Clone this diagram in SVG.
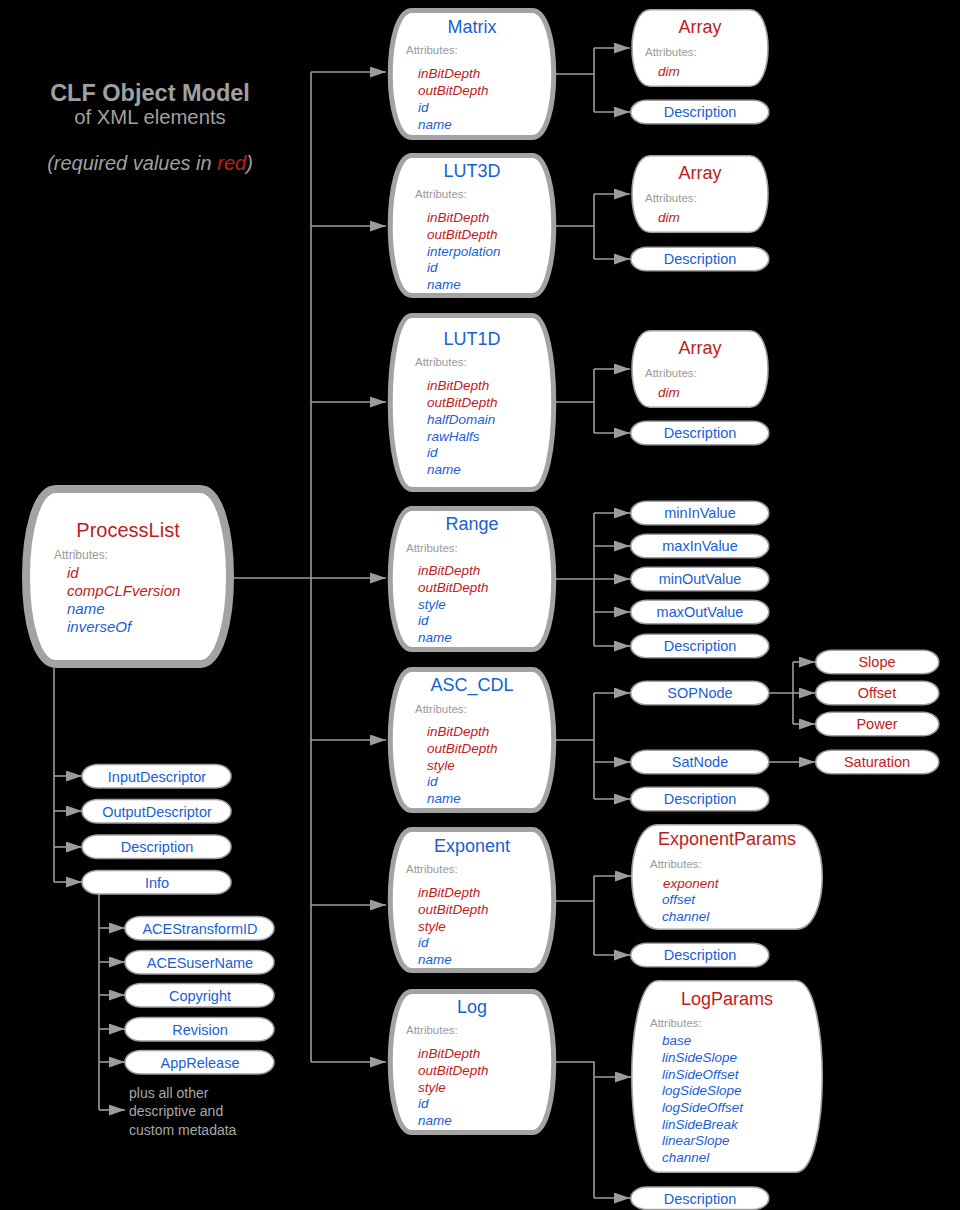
<svg xmlns="http://www.w3.org/2000/svg" width="960" height="1210" viewBox="0 0 960 1210">
<style>
text{font-family:"Liberation Sans",Arial,sans-serif}
.bg{fill:#000}
.big{fill:#fff;stroke:#a3a3a3;stroke-width:5}
.root{fill:#fff;stroke:#a3a3a3;stroke-width:8}
.thin{fill:#fff;stroke:#a0a0a0;stroke-width:1.6}
.pill{fill:#fff;stroke:#a0a0a0;stroke-width:1.6}
.c{fill:none;stroke:#9c9c9c;stroke-width:1.6}
.h{font-size:18px;text-anchor:middle}
.lbl{font-size:11.5px;fill:#9a9a9a}
.a{font-size:13.5px;font-style:italic}
.r{fill:#c0201a}
.b{fill:#1a5ed6}
.p{font-size:14.5px;text-anchor:middle}
.note{font-size:14px;fill:#a8a8a8}
</style>
<defs>
<marker id="arr" markerUnits="userSpaceOnUse" markerWidth="16" markerHeight="12" refX="16" refY="5.5" orient="auto">
<path d="M0,0 L16,5.5 L0,11 Z" fill="#9c9c9c"/>
</marker>
</defs>
<rect class="bg" x="0" y="0" width="960" height="1210"/>

<g id="title">
<text x="150" y="101" text-anchor="middle" style="font-weight:bold;font-size:23.5px;fill:#a0a0a0">CLF Object Model</text>
<text x="150" y="124" text-anchor="middle" style="font-size:20.3px;fill:#a0a0a0">of XML elements</text>
<text x="150" y="170" text-anchor="middle" style="font-size:20px;font-style:italic;fill:#a0a0a0">(required values in <tspan fill="#c0201a">red</tspan>)</text>
</g>

<g id="connectors">
<path class="c" d="M234,578 H386" marker-end="url(#arr)"/>
<path class="c" d="M311,72 V1062"/>
<path class="c" d="M311,72 H386" marker-end="url(#arr)"/>
<path class="c" d="M311,226 H386" marker-end="url(#arr)"/>
<path class="c" d="M311,402 H386" marker-end="url(#arr)"/>
<path class="c" d="M311,740 H386" marker-end="url(#arr)"/>
<path class="c" d="M311,905 H386" marker-end="url(#arr)"/>
<path class="c" d="M311,1062 H386" marker-end="url(#arr)"/>
<path class="c" d="M54,668 V882"/>
<path class="c" d="M54,776 H82" marker-end="url(#arr)"/>
<path class="c" d="M54,811 H82" marker-end="url(#arr)"/>
<path class="c" d="M54,847 H82" marker-end="url(#arr)"/>
<path class="c" d="M54,882 H82" marker-end="url(#arr)"/>
<path class="c" d="M99,894 V1110"/>
<path class="c" d="M99,928 H125" marker-end="url(#arr)"/>
<path class="c" d="M99,962 H125" marker-end="url(#arr)"/>
<path class="c" d="M99,995 H125" marker-end="url(#arr)"/>
<path class="c" d="M99,1029 H125" marker-end="url(#arr)"/>
<path class="c" d="M99,1062 H125" marker-end="url(#arr)"/>
<path class="c" d="M99,1110 H125" marker-end="url(#arr)"/>
<path class="c" d="M556,74 H594 M594,48 V112"/>
<path class="c" d="M594,48 H630" marker-end="url(#arr)"/>
<path class="c" d="M594,112 H630" marker-end="url(#arr)"/>
<path class="c" d="M556,226 H594 M594,194 V259"/>
<path class="c" d="M594,194 H630" marker-end="url(#arr)"/>
<path class="c" d="M594,259 H630" marker-end="url(#arr)"/>
<path class="c" d="M556,402 H594 M594,369 V433"/>
<path class="c" d="M594,369 H630" marker-end="url(#arr)"/>
<path class="c" d="M594,433 H630" marker-end="url(#arr)"/>
<path class="c" d="M556,579 H594 M594,513 V646"/>
<path class="c" d="M594,513 H630" marker-end="url(#arr)"/>
<path class="c" d="M594,546 H630" marker-end="url(#arr)"/>
<path class="c" d="M594,579 H630" marker-end="url(#arr)"/>
<path class="c" d="M594,612 H630" marker-end="url(#arr)"/>
<path class="c" d="M594,646 H630" marker-end="url(#arr)"/>
<path class="c" d="M556,740 H594 M594,693 V799"/>
<path class="c" d="M594,693 H630" marker-end="url(#arr)"/>
<path class="c" d="M594,762 H630" marker-end="url(#arr)"/>
<path class="c" d="M594,799 H630" marker-end="url(#arr)"/>
<path class="c" d="M769,693 H793 M793,662 V724"/>
<path class="c" d="M793,662 H815" marker-end="url(#arr)"/>
<path class="c" d="M793,693 H815" marker-end="url(#arr)"/>
<path class="c" d="M793,724 H815" marker-end="url(#arr)"/>
<path class="c" d="M769,762 H815" marker-end="url(#arr)"/>
<path class="c" d="M556,901 H594 M594,876 V955"/>
<path class="c" d="M594,876 H631" marker-end="url(#arr)"/>
<path class="c" d="M594,955 H630" marker-end="url(#arr)"/>
<path class="c" d="M556,1062 H594 V1198"/>
<path class="c" d="M594,1077 H631" marker-end="url(#arr)"/>
<path class="c" d="M594,1198 H630" marker-end="url(#arr)"/>
</g>

<g id="ProcessList">
<path class="root" d="M56,489 H200 C240,489 240,664 200,664 H56 C16,664 16,489 56,489 Z"/>
<text class="h r" x="128" y="537" style="font-size:20px">ProcessList</text>
<text class="lbl" x="54" y="559" style="font-size:12px">Attributes:</text>
<text class="a r" x="67" y="578" style="font-size:15px">id</text>
<text class="a r" x="67" y="596" style="font-size:15px">compCLFversion</text>
<text class="a b" x="67" y="614" style="font-size:15px">name</text>
<text class="a b" x="67" y="632" style="font-size:15px">inverseOf</text>
</g>

<g id="InputDescriptor"><rect class="pill" x="82" y="764.5" width="149" height="23.5" rx="16" ry="11.75"/><text class="p b" x="157" y="781.5">InputDescriptor</text></g>
<g id="OutputDescriptor"><rect class="pill" x="82" y="799.5" width="149" height="23.5" rx="16" ry="11.75"/><text class="p b" x="157" y="816.5">OutputDescriptor</text></g>
<g id="PL_Description"><rect class="pill" x="82" y="835" width="149" height="23.5" rx="16" ry="11.75"/><text class="p b" x="157" y="852">Description</text></g>
<g id="Info"><rect class="pill" x="82" y="870.5" width="149" height="23.5" rx="16" ry="11.75"/><text class="p b" x="157" y="887.5">Info</text></g>

<g id="ACEStransformID"><rect class="pill" x="125" y="916.5" width="149" height="23.5" rx="16" ry="11.75"/><text class="p b" x="200" y="933.5">ACEStransformID</text></g>
<g id="ACESuserName"><rect class="pill" x="125" y="950.5" width="149" height="23.5" rx="16" ry="11.75"/><text class="p b" x="200" y="967.5">ACESuserName</text></g>
<g id="Copyright"><rect class="pill" x="125" y="983.5" width="149" height="23.5" rx="16" ry="11.75"/><text class="p b" x="200" y="1000.5">Copyright</text></g>
<g id="Revision"><rect class="pill" x="125" y="1017.5" width="149" height="23.5" rx="16" ry="11.75"/><text class="p b" x="200" y="1034.5">Revision</text></g>
<g id="AppRelease"><rect class="pill" x="125" y="1050.5" width="149" height="23.5" rx="16" ry="11.75"/><text class="p b" x="200" y="1067.5">AppRelease</text></g>
<g id="OtherMetadata">
<text class="note" x="129" y="1098">plus all other</text>
<text class="note" x="129" y="1116">descriptive and</text>
<text class="note" x="129" y="1135">custom metadata</text>
</g>

<g id="Matrix">
<path class="big" d="M412,10.5 H532 C561,10.5 561,137.5 532,137.5 H412 C383,137.5 383,10.5 412,10.5 Z"/>
<text class="h b" x="472" y="33">Matrix</text>
<text class="lbl" x="406" y="54">Attributes:</text>
<text class="a r" x="418" y="78">inBitDepth</text>
<text class="a r" x="418" y="95">outBitDepth</text>
<text class="a b" x="418" y="112">id</text>
<text class="a b" x="418" y="129">name</text>
</g>
<g id="LUT3D">
<path class="big" d="M412,155.5 H532 C561,155.5 561,295.5 532,295.5 H412 C383,295.5 383,155.5 412,155.5 Z"/>
<text class="h b" x="472" y="177">LUT3D</text>
<text class="lbl" x="415" y="198">Attributes:</text>
<text class="a r" x="427" y="222">inBitDepth</text>
<text class="a r" x="427" y="239">outBitDepth</text>
<text class="a b" x="427" y="256">interpolation</text>
<text class="a b" x="427" y="272">id</text>
<text class="a b" x="427" y="289">name</text>
</g>
<g id="LUT1D">
<path class="big" d="M412,315.5 H532 C561,315.5 561,489.5 532,489.5 H412 C383,489.5 383,315.5 412,315.5 Z"/>
<text class="h b" x="472" y="345">LUT1D</text>
<text class="lbl" x="415" y="366">Attributes:</text>
<text class="a r" x="427" y="390">inBitDepth</text>
<text class="a r" x="427" y="407">outBitDepth</text>
<text class="a b" x="427" y="424">halfDomain</text>
<text class="a b" x="427" y="441">rawHalfs</text>
<text class="a b" x="427" y="457">id</text>
<text class="a b" x="427" y="474">name</text>
</g>
<g id="Range">
<path class="big" d="M412,508.5 H532 C561,508.5 561,649.5 532,649.5 H412 C383,649.5 383,508.5 412,508.5 Z"/>
<text class="h b" x="472" y="530">Range</text>
<text class="lbl" x="406" y="552">Attributes:</text>
<text class="a r" x="418" y="575">inBitDepth</text>
<text class="a r" x="418" y="592">outBitDepth</text>
<text class="a b" x="418" y="609">style</text>
<text class="a b" x="418" y="625">id</text>
<text class="a b" x="418" y="642">name</text>
</g>
<g id="ASC_CDL">
<path class="big" d="M412,669.5 H532 C561,669.5 561,810.5 532,810.5 H412 C383,810.5 383,669.5 412,669.5 Z"/>
<text class="h b" x="472" y="691">ASC_CDL</text>
<text class="lbl" x="415" y="713">Attributes:</text>
<text class="a r" x="427" y="736">inBitDepth</text>
<text class="a r" x="427" y="753">outBitDepth</text>
<text class="a r" x="427" y="770">style</text>
<text class="a b" x="427" y="786">id</text>
<text class="a b" x="427" y="803">name</text>
</g>
<g id="Exponent">
<path class="big" d="M412,829.5 H532 C561,829.5 561,970.5 532,970.5 H412 C383,970.5 383,829.5 412,829.5 Z"/>
<text class="h b" x="472" y="852">Exponent</text>
<text class="lbl" x="406" y="873">Attributes:</text>
<text class="a r" x="418" y="897">inBitDepth</text>
<text class="a r" x="418" y="914">outBitDepth</text>
<text class="a r" x="418" y="931">style</text>
<text class="a b" x="418" y="947">id</text>
<text class="a b" x="418" y="964">name</text>
</g>
<g id="Log">
<path class="big" d="M412,991.5 H532 C561,991.5 561,1132.5 532,1132.5 H412 C383,1132.5 383,991.5 412,991.5 Z"/>
<text class="h b" x="472" y="1013">Log</text>
<text class="lbl" x="406" y="1034">Attributes:</text>
<text class="a r" x="418" y="1058">inBitDepth</text>
<text class="a r" x="418" y="1075">outBitDepth</text>
<text class="a r" x="418" y="1092">style</text>
<text class="a b" x="418" y="1108">id</text>
<text class="a b" x="418" y="1125">name</text>
</g>

<g id="Matrix_Array">
<path class="thin" d="M650,9.8 H750 C774,9.8 774,86.2 750,86.2 H650 C626,86.2 626,9.8 650,9.8 Z"/>
<text class="h r" x="700" y="33">Array</text>
<text class="lbl" x="645" y="56">Attributes:</text>
<text class="a r" x="658" y="76">dim</text>
</g>
<g id="Matrix_Description"><rect class="pill" x="630.8" y="100.3" width="138" height="23.5" rx="16" ry="11.75"/><text class="p b" x="700" y="117">Description</text></g>

<g id="LUT3D_Array">
<path class="thin" d="M650,155.8 H750 C774,155.8 774,232.2 750,232.2 H650 C626,232.2 626,155.8 650,155.8 Z"/>
<text class="h r" x="700" y="179">Array</text>
<text class="lbl" x="645" y="202">Attributes:</text>
<text class="a r" x="658" y="222">dim</text>
</g>
<g id="LUT3D_Description"><rect class="pill" x="630.8" y="247.3" width="138" height="23.5" rx="16" ry="11.75"/><text class="p b" x="700" y="264">Description</text></g>

<g id="LUT1D_Array">
<path class="thin" d="M650,330.8 H750 C774,330.8 774,407.2 750,407.2 H650 C626,407.2 626,330.8 650,330.8 Z"/>
<text class="h r" x="700" y="354">Array</text>
<text class="lbl" x="645" y="377">Attributes:</text>
<text class="a r" x="658" y="397">dim</text>
</g>
<g id="LUT1D_Description"><rect class="pill" x="630.8" y="421.3" width="138" height="23.5" rx="16" ry="11.75"/><text class="p b" x="700" y="438">Description</text></g>

<g id="minInValue"><rect class="pill" x="630.8" y="501.3" width="138" height="23.5" rx="16" ry="11.75"/><text class="p b" x="700" y="518">minInValue</text></g>
<g id="maxInValue"><rect class="pill" x="630.8" y="534.3" width="138" height="23.5" rx="16" ry="11.75"/><text class="p b" x="700" y="551">maxInValue</text></g>
<g id="minOutValue"><rect class="pill" x="630.8" y="567.3" width="138" height="23.5" rx="16" ry="11.75"/><text class="p b" x="700" y="584">minOutValue</text></g>
<g id="maxOutValue"><rect class="pill" x="630.8" y="600.3" width="138" height="23.5" rx="16" ry="11.75"/><text class="p b" x="700" y="617">maxOutValue</text></g>
<g id="Range_Description"><rect class="pill" x="630.8" y="634.3" width="138" height="23.5" rx="16" ry="11.75"/><text class="p b" x="700" y="651">Description</text></g>

<g id="SOPNode"><rect class="pill" x="630.8" y="681.3" width="138" height="23.5" rx="16" ry="11.75"/><text class="p b" x="700" y="698">SOPNode</text></g>
<g id="SatNode"><rect class="pill" x="630.8" y="750.3" width="138" height="23.5" rx="16" ry="11.75"/><text class="p b" x="700" y="767">SatNode</text></g>
<g id="CDL_Description"><rect class="pill" x="630.8" y="787.3" width="138" height="23.5" rx="16" ry="11.75"/><text class="p b" x="700" y="804">Description</text></g>

<g id="Slope"><rect class="pill" x="815.8" y="650.3" width="123" height="23.5" rx="16" ry="11.75"/><text class="p r" x="877" y="667">Slope</text></g>
<g id="Offset"><rect class="pill" x="815.8" y="681.3" width="123" height="23.5" rx="16" ry="11.75"/><text class="p r" x="877" y="698">Offset</text></g>
<g id="Power"><rect class="pill" x="815.8" y="712.3" width="123" height="23.5" rx="16" ry="11.75"/><text class="p r" x="877" y="729">Power</text></g>
<g id="Saturation"><rect class="pill" x="815.8" y="750.3" width="123" height="23.5" rx="16" ry="11.75"/><text class="p r" x="877" y="767">Saturation</text></g>

<g id="ExponentParams">
<path class="thin" d="M658,824.8 H796 C831,824.8 831,929.2 796,929.2 H658 C623,929.2 623,824.8 658,824.8 Z"/>
<text class="h r" x="727" y="845">ExponentParams</text>
<text class="lbl" x="650" y="868">Attributes:</text>
<text class="a r" x="663" y="888">exponent</text>
<text class="a b" x="662" y="904">offset</text>
<text class="a b" x="662" y="921">channel</text>
</g>
<g id="Exponent_Description"><rect class="pill" x="630.8" y="943.3" width="138" height="23.5" rx="16" ry="11.75"/><text class="p b" x="700" y="960">Description</text></g>

<g id="LogParams">
<path class="thin" d="M658,980.8 H796 C831,980.8 831,1172.2 796,1172.2 H658 C623,1172.2 623,980.8 658,980.8 Z"/>
<text class="h r" x="727" y="1005">LogParams</text>
<text class="lbl" x="650" y="1027">Attributes:</text>
<text class="a b" x="662" y="1045">base</text>
<text class="a b" x="662" y="1062">linSideSlope</text>
<text class="a b" x="662" y="1079">linSideOffset</text>
<text class="a b" x="662" y="1095">logSideSlope</text>
<text class="a b" x="662" y="1112">logSideOffset</text>
<text class="a b" x="662" y="1129">linSideBreak</text>
<text class="a b" x="662" y="1145">linearSlope</text>
<text class="a b" x="662" y="1162">channel</text>
</g>
<g id="Log_Description"><rect class="pill" x="630.8" y="1187" width="138" height="22.5" rx="16" ry="11.25"/><text class="p b" x="700" y="1204">Description</text></g>
</svg>
